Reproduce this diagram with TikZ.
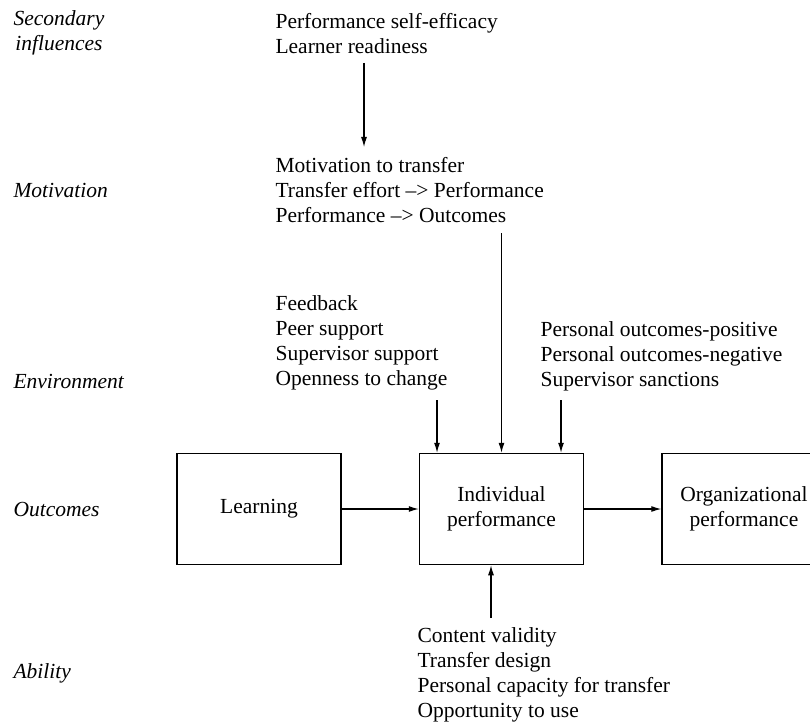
\documentclass[tikz,border=0pt]{standalone}
\usepackage{fontspec}
\setmainfont{Liberation Serif}
\usetikzlibrary{arrows.meta,positioning}

\begin{document}
\begin{tikzpicture}[x=1pt,y=-1pt,>={Latex[length=10pt,width=6pt]},line width=1.1pt,
 font=\fontsize{21.5}{25}\selectfont,
 box/.style={draw,line width=1.5pt,minimum width=164pt,minimum height=111pt,align=center,inner sep=0pt,font=\fontsize{21.5}{25}\selectfont},
 tier/.style={anchor=west,inner sep=0pt,align=center,font=\fontsize{21.5}{25}\selectfont\itshape},
 factors/.style={anchor=north west,inner sep=0pt,align=left,font=\fontsize{21.5}{25}\selectfont}]
\clip (0,0) rectangle (810,722);
% levels on the left
\node[tier] (tsec) at (13,33) {Secondary\\influences};
\node[tier] (tmot) at (13,190) {Motivation};
\node[tier] (tenv) at (13,381) {Environment};
\node[tier] (tout) at (13,510) {Outcomes};
\node[tier] (tabl) at (13,673) {Ability};
% outcome boxes
\node[box] (learn) at (259,509) {Learning};
\node[box,right=77pt of learn] (indiv) {Individual\\performance};
\node[box,right=77pt of indiv] (org) {Organizational\\performance};
% factor lists
\node[factors] (second) at (275,13) {Performance self-efficacy\\Learner readiness};
\node[factors] (motiv) at (275,157) {Motivation to transfer\\Transfer effort --> Performance\\Performance --> Outcomes};
\node[factors] (envir) at (275,295) {Feedback\\Peer support\\Supervisor support\\Openness to change};
\node[factors] (sanct) at (540,321) {Personal outcomes-positive\\Personal outcomes-negative\\Supervisor sanctions};
\node[factors] (abil) at (417,627) {Content validity\\Transfer design\\Personal capacity for transfer\\Opportunity to use};
% arrow tails
\coordinate (secTail) at (364,63);
\coordinate (envTail) at (437,400);
\coordinate (sanTail) at (561,400);
\coordinate (ablTail) at (491,618);
\draw[->,shorten >=10pt] (secTail) -- (secTail |- motiv.north);
\draw[->,shorten <=10pt] (motiv.south -| indiv.north) -- (indiv.north);
\draw[->] (envTail) -- (envTail |- indiv.north);
\draw[->] (sanTail) -- (sanTail |- indiv.north);
\draw[->] (ablTail) -- (ablTail |- indiv.south);
\draw[->] (learn) -- (indiv);
\draw[->] (indiv) -- (org);
\end{tikzpicture}
\end{document}
